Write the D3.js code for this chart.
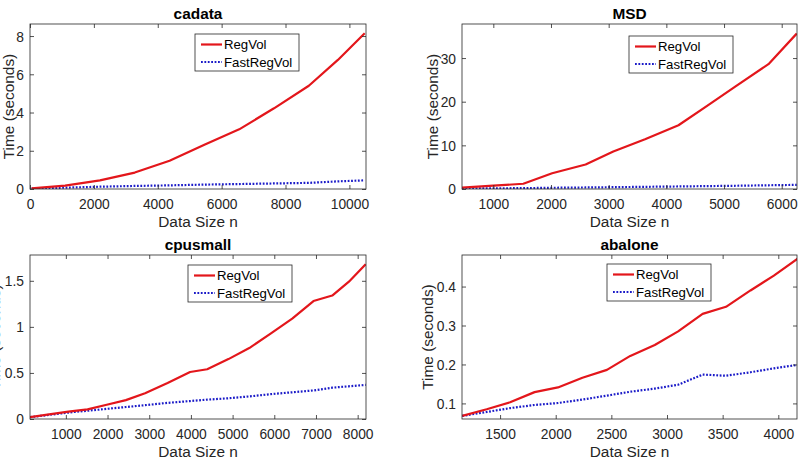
<!DOCTYPE html>
<html>
<head>
<meta charset="utf-8">
<script src="https://cdn.jsdelivr.net/npm/d3@7"></script>
<style>
  body { margin: 0; background: #fff; }
  svg { display: block; font-family: "Liberation Sans", Arial, Helvetica, sans-serif; }
  .tick-label { font-size: 13.8px; fill: #262626; }
  .axis-label { font-size: 15.4px; fill: #262626; }
  .title { font-size: 15.4px; font-weight: bold; fill: #000; }
  .legend-text { font-size: 13.2px; fill: #000; }
</style>
</head>
<body>
<script>
// ---- data ----
const seriesNames = ['RegVol', 'FastRegVol']

// cadata
const cadataN = [50, 1100, 2190, 3280, 4370, 5460, 6550, 7640, 8730, 9640, 10480]
const cadataRegVol = [0.03, 0.18, 0.45, 0.86, 1.48, 2.32, 3.12, 4.22, 5.40, 6.75, 8.15]
const cadataFast = [0.02, 0.07, 0.12, 0.16, 0.19, 0.23, 0.26, 0.29, 0.32, 0.40, 0.45]
const cadataXTicks = [0, 2000, 4000, 6000, 8000, 10000]
const cadataYTicks = [0, 2, 4, 6, 8]

// MSD
const msdN = [457, 1000, 1520, 2020, 2600, 3080, 3630, 4210, 4700, 5200, 5770, 6260]
const msdRegVol = [0.3, 0.76, 1.2, 3.6, 5.6, 8.6, 11.4, 14.6, 19.0, 23.5, 28.6, 35.6]
const msdFast = [0.1, 0.15, 0.2, 0.28, 0.35, 0.42, 0.5, 0.58, 0.66, 0.74, 0.85, 0.95]
const msdXTicks = [1000, 2000, 3000, 4000, 5000, 6000]
const msdYTicks = [0, 10, 20, 30]

// cpusmall
const cpuN = [140, 600, 1060, 1520, 1980, 2440, 2900, 3440, 3980, 4390, 4900, 5400, 5920, 6430, 6940, 7390, 7790, 8192]
const cpuRegVol = [0.02, 0.05, 0.08, 0.105, 0.155, 0.205, 0.28, 0.39, 0.51, 0.54, 0.65, 0.77, 0.93, 1.09, 1.28, 1.34, 1.49, 1.68]
const cpuFast = [0.02, 0.045, 0.07, 0.09, 0.11, 0.13, 0.15, 0.175, 0.195, 0.21, 0.225, 0.245, 0.27, 0.29, 0.31, 0.34, 0.355, 0.37]
const cpuXTicks = [1000, 2000, 3000, 4000, 5000, 6000, 7000, 8000]
const cpuYTicks = [0, 0.5, 1, 1.5]

// abalone
const abaloneN = [1160, 1380, 1590, 1810, 2020, 2240, 2460, 2670, 2890, 3100, 3320, 3530, 3750, 3960, 4177]
const abaloneRegVol = [0.068, 0.085, 0.103, 0.129, 0.141, 0.166, 0.186, 0.222, 0.250, 0.285, 0.330, 0.348, 0.390, 0.428, 0.472]
const abaloneFast = [0.068, 0.078, 0.088, 0.096, 0.101, 0.110, 0.120, 0.130, 0.138, 0.148, 0.174, 0.171, 0.180, 0.190, 0.199]
const abaloneXTicks = [1500, 2000, 2500, 3000, 3500, 4000]
const abaloneYTicks = [0.1, 0.2, 0.3, 0.4]

// ---- layout ----
const width = 802
const height = 464
const colors = { RegVol: '#e3161b', FastRegVol: '#1b1bc8' }

const panels = [
  {
    title: 'cadata', n: cadataN, reg: cadataRegVol, fast: cadataFast,
    xTicks: cadataXTicks, yTicks: cadataYTicks,
    xDomain: [0, 10520], yDomain: [0, 8.63],
    box: { left: 30, right: 366, top: 24, bottom: 189 },
    ylabelX: 13.5, legend: { x: 195, y: 34 }
  },
  {
    title: 'MSD', n: msdN, reg: msdRegVol, fast: msdFast,
    xTicks: msdXTicks, yTicks: msdYTicks,
    xDomain: [457, 6265], yDomain: [0, 37.8],
    box: { left: 462, right: 797, top: 24, bottom: 189 },
    ylabelX: 438, legend: { x: 629, y: 36 }
  },
  {
    title: 'cpusmall', n: cpuN, reg: cpuRegVol, fast: cpuFast,
    xTicks: cpuXTicks, yTicks: cpuYTicks,
    xDomain: [140, 8200], yDomain: [0, 1.78],
    box: { left: 30, right: 366, top: 255, bottom: 419 },
    ylabelX: 0, legend: { x: 188, y: 265 }
  },
  {
    title: 'abalone', n: abaloneN, reg: abaloneRegVol, fast: abaloneFast,
    xTicks: abaloneXTicks, yTicks: abaloneYTicks,
    xDomain: [1158, 4168], yDomain: [0.06, 0.481],
    box: { left: 462, right: 797, top: 255, bottom: 419 },
    ylabelX: 433, legend: { x: 607, y: 264 }
  }
]

const svg = d3.select('body').append('svg')
  .attr('width', width)
  .attr('height', height)

const fmt = d3.format('~g')
const tickLen = 4

function drawPanel (p) {
  const b = p.box
  const x = d3.scaleLinear().domain(p.xDomain).range([b.left, b.right])
  const y = d3.scaleLinear().domain(p.yDomain).range([b.bottom, b.top])
  const g = svg.append('g').attr('class', 'panel')

  // white axes background
  g.append('rect')
    .attr('x', b.left).attr('y', b.top)
    .attr('width', b.right - b.left).attr('height', b.bottom - b.top)
    .attr('fill', '#fff')

  // series lines, clipped to the axes box
  const clipId = 'clip-' + p.title
  g.append('clipPath').attr('id', clipId)
    .append('rect')
    .attr('x', b.left).attr('y', b.top - 2)
    .attr('width', b.right - b.left).attr('height', b.bottom - b.top + 2)

  const line = d3.line()
    .x(d => x(d[0]))
    .y(d => y(d[1]))

  const lines = g.append('g').attr('clip-path', `url(#${clipId})`)
  lines.append('path')
    .datum(d3.zip(p.n, p.fast))
    .attr('fill', 'none')
    .attr('stroke', colors.FastRegVol)
    .attr('stroke-width', 2.2)
    .attr('stroke-dasharray', '1.8 1.6')
    .attr('d', line)
  lines.append('path')
    .datum(d3.zip(p.n, p.reg))
    .attr('fill', 'none')
    .attr('stroke', colors.RegVol)
    .attr('stroke-width', 2.2)
    .attr('stroke-linejoin', 'round')
    .attr('d', line)

  // axes: ticks inside, mirrored on top and right (MATLAB box on)
  const axisColor = '#262626'
  const axes = [
    d3.axisBottom(x).tickValues(p.xTicks).tickSizeInner(-tickLen).tickSizeOuter(0).tickFormat(fmt),
    d3.axisTop(x).tickValues(p.xTicks).tickSizeInner(-tickLen).tickSizeOuter(0).tickFormat(''),
    d3.axisLeft(y).tickValues(p.yTicks).tickSizeInner(-tickLen).tickSizeOuter(0).tickFormat(fmt),
    d3.axisRight(y).tickValues(p.yTicks).tickSizeInner(-tickLen).tickSizeOuter(0).tickFormat('')
  ]
  const shifts = [
    `translate(0,${b.bottom})`, `translate(0,${b.top})`,
    `translate(${b.left},0)`, `translate(${b.right},0)`
  ]
  axes.forEach((ax, i) => {
    const a = g.append('g').attr('transform', shifts[i]).call(ax)
    a.select('.domain').remove()
    a.selectAll('line').attr('stroke', axisColor).attr('stroke-width', 0.8)
    a.selectAll('text').attr('class', 'tick-label').attr('font-family', null).attr('font-size', null)
  })
  // tick label placement
  g.selectAll('.tick-label').each(function () {
    const t = d3.select(this)
    const parent = d3.select(this.parentNode.parentNode)
    if (parent.attr('transform') === shifts[0]) {
      t.attr('y', 19.5).attr('dy', null)
    } else if (parent.attr('transform') === shifts[2]) {
      t.attr('x', -6).attr('dy', '0.36em')
    }
  })

  // axes box
  g.append('rect')
    .attr('x', b.left).attr('y', b.top)
    .attr('width', b.right - b.left).attr('height', b.bottom - b.top)
    .attr('fill', 'none')
    .attr('stroke', axisColor)
    .attr('stroke-width', 0.8)

  const cx = (b.left + b.right) / 2
  g.append('text').attr('class', 'title')
    .attr('x', cx).attr('y', b.top - 5)
    .attr('text-anchor', 'middle')
    .text(p.title)

  g.append('text').attr('class', 'axis-label')
    .attr('x', cx).attr('y', b.bottom + 37.5)
    .attr('text-anchor', 'middle')
    .text('Data Size n')

  g.append('text').attr('class', 'axis-label')
    .attr('transform', `translate(${p.ylabelX},${(b.top + b.bottom) / 2}) rotate(-90)`)
    .attr('text-anchor', 'middle')
    .text('Time (seconds)')

  // legend
  const lg = g.append('g').attr('transform', `translate(${p.legend.x},${p.legend.y})`)
  lg.append('rect')
    .attr('width', 104).attr('height', 37)
    .attr('fill', '#fff')
    .attr('stroke', axisColor)
    .attr('stroke-width', 0.8)
  seriesNames.forEach((name, i) => {
    const ry = 10.5 + i * 17.5
    lg.append('line')
      .attr('x1', 6).attr('x2', 27)
      .attr('y1', ry).attr('y2', ry)
      .attr('stroke', colors[name])
      .attr('stroke-width', 2.2)
      .attr('stroke-dasharray', name === 'FastRegVol' ? '1.8 1.6' : null)
    lg.append('text').attr('class', 'legend-text')
      .attr('x', 29).attr('y', ry)
      .attr('dy', '0.36em')
      .text(name)
  })
}

panels.forEach(drawPanel)
</script>
</body>
</html>
